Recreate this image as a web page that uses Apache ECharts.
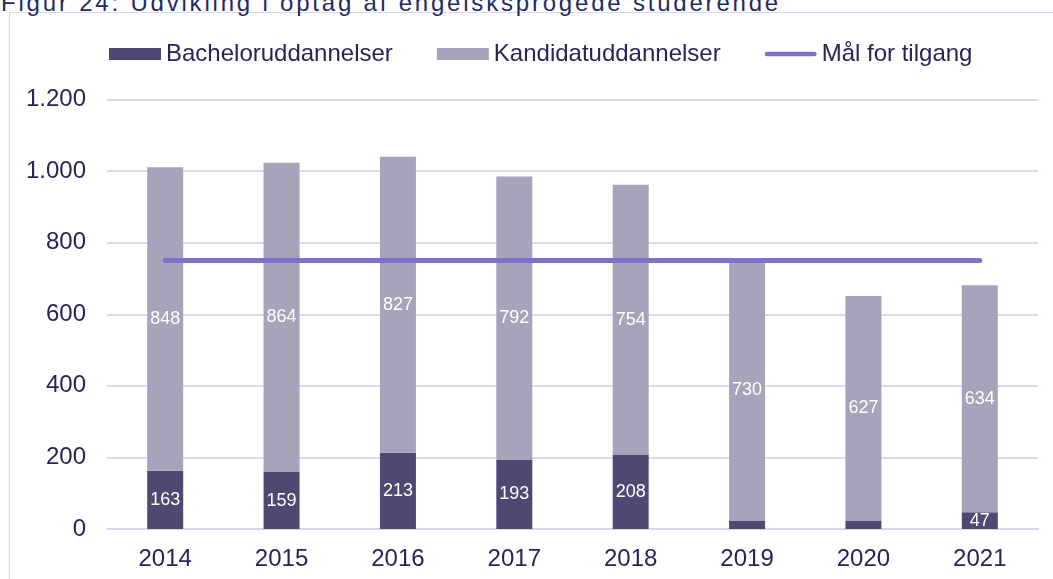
<!DOCTYPE html>
<html>
<head>
<meta charset="utf-8">
<script src="https://cdn.jsdelivr.net/npm/echarts@6/dist/echarts.min.js"></script>
<style>
  html, body { margin: 0; padding: 0; background: #fff; overflow: hidden; }
  #wrap { position: relative; width: 1053px; height: 579px; }
  #frame {
    position: absolute; left: 9px; top: 12px; width: 1100px; height: 600px;
    border-left: 1px solid #d9d5f0; border-top: 1px solid #d9d5f0;
  }
  #title {
    position: absolute; left: 1px; top: -11px; white-space: nowrap;
    font-family: "Liberation Sans", Arial, sans-serif; font-size: 24px;
    letter-spacing: 2.8px; color: #1f2b66;
  }
  #main { position: absolute; left: 0; top: 0; width: 1053px; height: 579px; }
</style>
</head>
<body>
<div id="wrap">
  <div id="frame"></div>
  <div id="title">Figur 24: Udvikling i optag af engelsksprogede studerende</div>
  <div id="main"></div>
</div>
<script>
// år
var years = ["2014", "2015", "2016", "2017", "2018", "2019", "2020", "2021"];
// optag pr. uddannelsestype
var bachelor = [163, 159, 213, 193, 208, 24, 24, 47];
var kandidat = [848, 864, 827, 792, 754, 730, 627, 634];
// mål for tilgang
var maal = [750, 750, 750, 750, 750, 750, 750, 750];
var yTicks = [0, 200, 400, 600, 800, 1000, 1200];

var textColor = "#2a2358";
var font = "'Liberation Sans', Arial, sans-serif";

var chart = echarts.init(document.getElementById("main"));

function labelFmt(p) {
  // små værdier vises ikke
  return p.value < 40 ? "" : p.value;
}

var option = {
  backgroundColor: "transparent",
  animation: false,
  textStyle: { fontFamily: font },
  legend: {
    left: 104,
    top: 37,
    itemWidth: 52,
    itemHeight: 12,
    itemGap: 44,
    textStyle: { fontSize: 24, color: textColor, fontFamily: font },
    data: [
      { name: "Bacheloruddannelser", icon: "rect" },
      { name: "Kandidatuddannelser", icon: "rect" },
      {
        name: "Mål for tilgang",
        // tyk streg med runde ender
        icon: "path://M2.5,0 L53.5,0 A2.5,2.5 0 0 1 53.5,5 L2.5,5 A2.5,2.5 0 0 1 2.5,0 Z"
      }
    ]
  },
  grid: {
    left: 107,
    right: 15,
    top: 99.5,
    bottom: 50
  },
  xAxis: {
    type: "category",
    data: years,
    axisTick: { show: false },
    axisLine: { lineStyle: { color: "#d9d5f0", width: 2 } },
    axisLabel: { color: textColor, fontSize: 24, margin: 18, fontFamily: font }
  },
  yAxis: {
    type: "value",
    min: yTicks[0],
    max: yTicks[yTicks.length - 1],
    interval: 200,
    axisLine: { show: false },
    axisTick: { show: false },
    axisLabel: {
      color: textColor, fontSize: 24, margin: 21, fontFamily: font,
      formatter: function (v) {
        return v >= 1000 ? Math.floor(v / 1000) + "." + String(v % 1000).padStart(3, "0") : v + "";
      }
    },
    splitLine: { lineStyle: { color: "#dcd8f2", width: 2 } }
  },
  series: [
    {
      name: "Bacheloruddannelser",
      type: "bar",
      stack: "optag",
      barWidth: 36,
      itemStyle: { color: "#4e4873" },
      label: {
        show: true, position: "inside", color: "#fff", fontSize: 18,
        fontFamily: font, formatter: labelFmt
      },
      data: bachelor
    },
    {
      name: "Kandidatuddannelser",
      type: "bar",
      stack: "optag",
      barWidth: 36,
      itemStyle: { color: "#a7a3ba" },
      label: {
        show: true, position: "inside", color: "#fff", fontSize: 18,
        fontFamily: font, formatter: labelFmt
      },
      data: kandidat
    },
    {
      name: "Mål for tilgang",
      type: "line",
      symbol: "none",
      z: 5,
      lineStyle: { color: "#7b72cc", width: 5, cap: "round" },
      itemStyle: { color: "#7b72cc" },
      data: maal
    }
  ]
};

chart.setOption(option);
</script>
</body>
</html>
